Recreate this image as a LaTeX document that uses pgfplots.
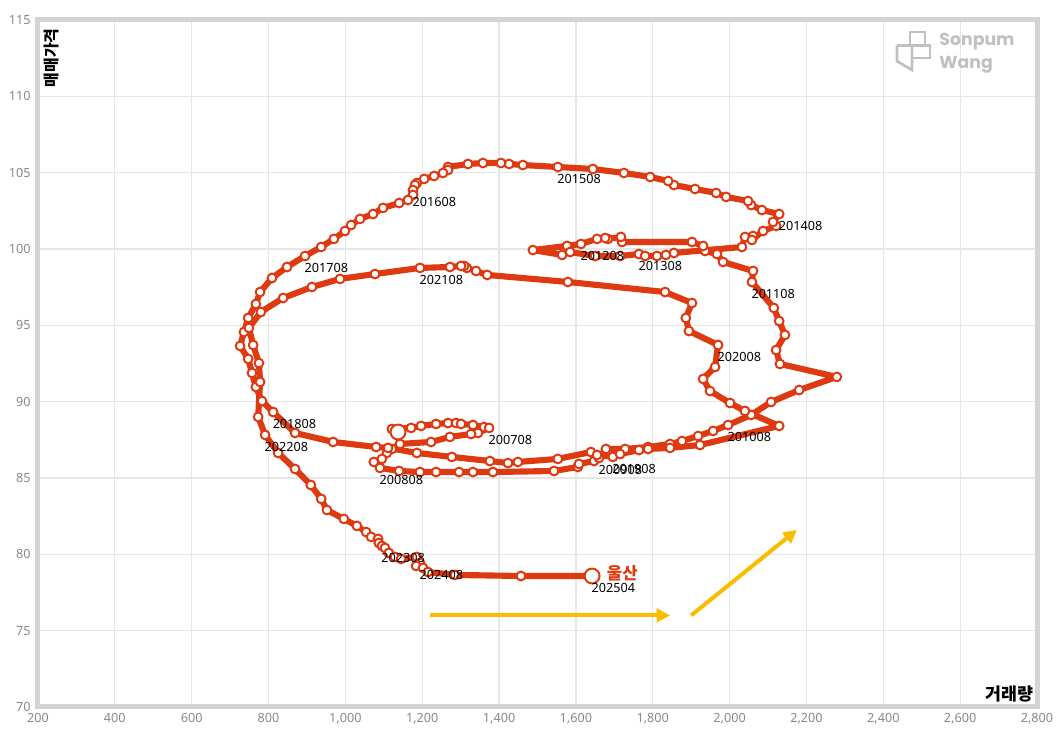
\documentclass[border=0pt]{standalone}
\usepackage{pgfplots}
\pgfplotsset{compat=1.18}
\usepackage{fontspec}
\setmainfont{Noto Sans}
\newfontfamily\kr{Noto Sans CJK KR}
\newfontfamily\wmfont{Poppins}
\usetikzlibrary{arrows.meta}

\definecolor{ulsan}{RGB}{222,58,18}
\definecolor{framec}{RGB}{212,212,212}
\definecolor{gridc}{RGB}{230,230,230}
\definecolor{tickc}{RGB}{136,136,136}
\definecolor{arrowc}{RGB}{250,188,0}
\definecolor{wm}{RGB}{192,192,192}

\begin{document}
\begin{tikzpicture}
\begin{axis}[
    width=749.25pt, height=515.25pt, scale only axis,
    xmin=200, xmax=2800, ymin=70, ymax=115,
    xtick distance=200, ytick distance=5,
    grid=major,
    major grid style={gridc, line width=0.9pt},
    axis line style={framec, line width=3.75pt},
    major tick length=0pt,
    tick label style={font=\fontsize{9.5}{11}\selectfont, text=tickc},
    /pgf/number format/assume math mode=true,
    /pgf/number format/1000 sep={,},
    xticklabel style={yshift=-1pt},
    yticklabel style={xshift=-2pt},
    xlabel={\kr\bfseries 거래량},
    xlabel style={at={(rel axis cs:0.997,0.006)}, anchor=south east, inner sep=0pt,
        font=\fontsize{13}{15}\selectfont},
    ylabel={\kr\bfseries 매매가격},
    ylabel style={at={(rel axis cs:0.006,0.988)}, anchor=north east, inner sep=0pt,
        font=\fontsize{12}{14}\selectfont},
]
\coordinate (SW) at (rel axis cs:0,0);
\coordinate (NE) at (rel axis cs:1,1);

% watermark
\draw[wm, line width=2pt] (rel axis cs:0.8729,0.9825) rectangle (rel axis cs:0.8879,0.9631);
\draw[wm, line width=2pt] (rel axis cs:0.8599,0.9631) -- (rel axis cs:0.8929,0.9631) -- (rel axis cs:0.8929,0.9447) -- (rel axis cs:0.8749,0.9447);
\draw[wm, line width=2pt] (rel axis cs:0.8599,0.9631) -- (rel axis cs:0.8599,0.9400) -- (rel axis cs:0.8749,0.9272) -- (rel axis cs:0.8749,0.9631);
\node[wm, anchor=west, inner sep=0pt, font=\wmfont\fontsize{13}{14}\selectfont\bfseries] at (rel axis cs:0.902,0.968) {Sonpum};
\node[wm, anchor=west, inner sep=0pt, font=\wmfont\fontsize{13}{14}\selectfont\bfseries] at (rel axis cs:0.902,0.935) {Wang};

% arrows
\draw[arrowc, line width=3pt, -{Triangle[length=10pt,width=10pt]}] (axis cs:1220,76) -- (axis cs:1845,76);
\draw[arrowc, line width=3pt, -{Triangle[length=10pt,width=10pt]}] (axis cs:1900,76) -- (axis cs:2175,81.6);

% path
\addplot[ulsan, line width=4.6pt, line join=round, line cap=round,
    mark=*, mark size=3.3pt, mark options={fill=white, draw=ulsan, line width=1.5pt}]
table {
x y
1137 88.01
1121 88.21
1171 88.28
1197 88.41
1236 88.54
1267 88.60
1288 88.60
1301 88.54
1332 88.47
1361 88.34
1374 88.28
1345 87.95
1327 87.88
1272 87.69
1223 87.36
1142 87.23
1121 86.90
1108 86.64
1095 86.25
1074 86.05
1090 85.66
1140 85.46
1194 85.39
1236 85.39
1296 85.39
1332 85.39
1384 85.39
1543 85.46
1605 85.72
1608 85.92
1647 86.11
1660 86.31
1678 86.90
1728 86.90
1788 87.03
1845 87.23
1876 87.42
1918 87.75
1957 88.08
1996 88.47
2056 89.13
2108 89.98
2181 90.76
2279 91.62
2131 92.47
2121 93.38
2144 94.37
2129 95.28
2115 96.14
2058 97.84
2061 98.56
1983 99.15
1967 99.67
1936 99.87
1931 100.20
1902 100.46
1720 100.46
1717 100.79
1683 100.66
1676 100.72
1655 100.66
1613 100.33
1577 100.20
1488 99.93
1564 99.61
1585 99.80
1650 99.54
1715 99.54
1764 99.67
1780 99.54
1811 99.54
1834 99.61
1855 99.74
2032 100.13
2040 100.79
2061 100.85
2058 100.59
2087 101.18
2121 101.51
2113 101.77
2129 102.29
2084 102.55
2056 102.88
2048 103.14
1991 103.41
1965 103.67
1910 103.93
1855 104.19
1840 104.45
1793 104.72
1725 104.98
1644 105.24
1553 105.37
1462 105.50
1426 105.57
1405 105.63
1358 105.63
1319 105.57
1267 105.37
1267 105.17
1254 104.98
1231 104.78
1205 104.59
1186 104.32
1181 104.19
1176 103.86
1176 103.54
1163 103.21
1140 103.01
1098 102.69
1072 102.29
1038 101.97
1015 101.57
999 101.18
970 100.66
937 100.13
895 99.54
848 98.82
809 98.10
778 97.18
767 96.40
747 95.48
736 94.56
726 93.65
747 92.80
757 91.88
767 90.96
783 90.04
812 89.32
869 87.95
968 87.36
1080 87.03
1111 86.97
1186 86.64
1277 86.38
1376 86.11
1423 85.98
1449 86.05
1553 86.25
1639 86.70
1655 86.51
1696 86.38
1715 86.57
1764 86.83
1788 86.90
1845 86.97
1923 87.16
2129 88.41
2040 89.39
2001 89.91
1949 90.70
1931 91.49
1962 92.27
1970 93.71
1894 94.63
1886 95.48
1902 96.46
1832 97.18
1579 97.84
1369 98.30
1340 98.56
1316 98.76
1309 98.89
1301 98.89
1272 98.82
1194 98.76
1077 98.36
986 98.04
913 97.51
838 96.79
780 95.87
749 94.83
760 93.71
775 92.53
778 91.29
773 89.00
791 87.82
825 86.64
869 85.59
910 84.54
937 83.63
952 82.90
996 82.32
1030 81.86
1054 81.46
1067 81.14
1085 81.01
1087 80.74
1095 80.55
1103 80.42
1113 80.09
1129 79.83
1145 79.70
1186 79.83
1194 79.43
1184 79.24
1202 79.11
1215 78.84
1285 78.65
1457 78.58
1642 78.58
};

% start and end points
\addplot[only marks, mark=*, mark size=5.6pt,
    mark options={fill=white, draw=ulsan, line width=1.5pt}]
table {
x y
1137 88.01
1642 78.58
};

% region label
\addplot[draw=none, mark=none, nodes near coords={\kr\bfseries 울산},
    every node near coord/.style={anchor=west, inner sep=0pt, text=ulsan,
        font=\fontsize{12.5}{14}\selectfont, xshift=11pt, yshift=2.2pt}]
coordinates {(1642,78.58)};

% month labels
\addplot[draw=none, mark=none, nodes near coords, point meta=explicit symbolic,
    every node near coord/.style={anchor=north west, inner sep=0pt, text=black,
        font=\fontsize{9.5}{11}\selectfont, xshift=-0.5pt, yshift=-5pt}]
table[meta=lab] {
x y lab
1374 88.28 200708
1090 85.66 200808
1660 86.31 200908
1996 88.47 201008
2058 97.84 201108
1613 100.33 201208
1764 99.67 201308
2129 102.29 201408
1553 105.37 201508
1176 103.86 201608
895 99.54 201708
812 89.32 201808
1696 86.38 201908
1970 93.71 202008
1194 98.76 202108
791 87.82 202208
1095 80.55 202308
1194 79.43 202408
1642 78.58 202504
};
\end{axis}
\pgfresetboundingbox
\path[use as bounding box] ([shift={(-28.5pt,-18.75pt)}]SW) rectangle ([shift={(17.25pt,15pt)}]NE);
\end{tikzpicture}
\end{document}
